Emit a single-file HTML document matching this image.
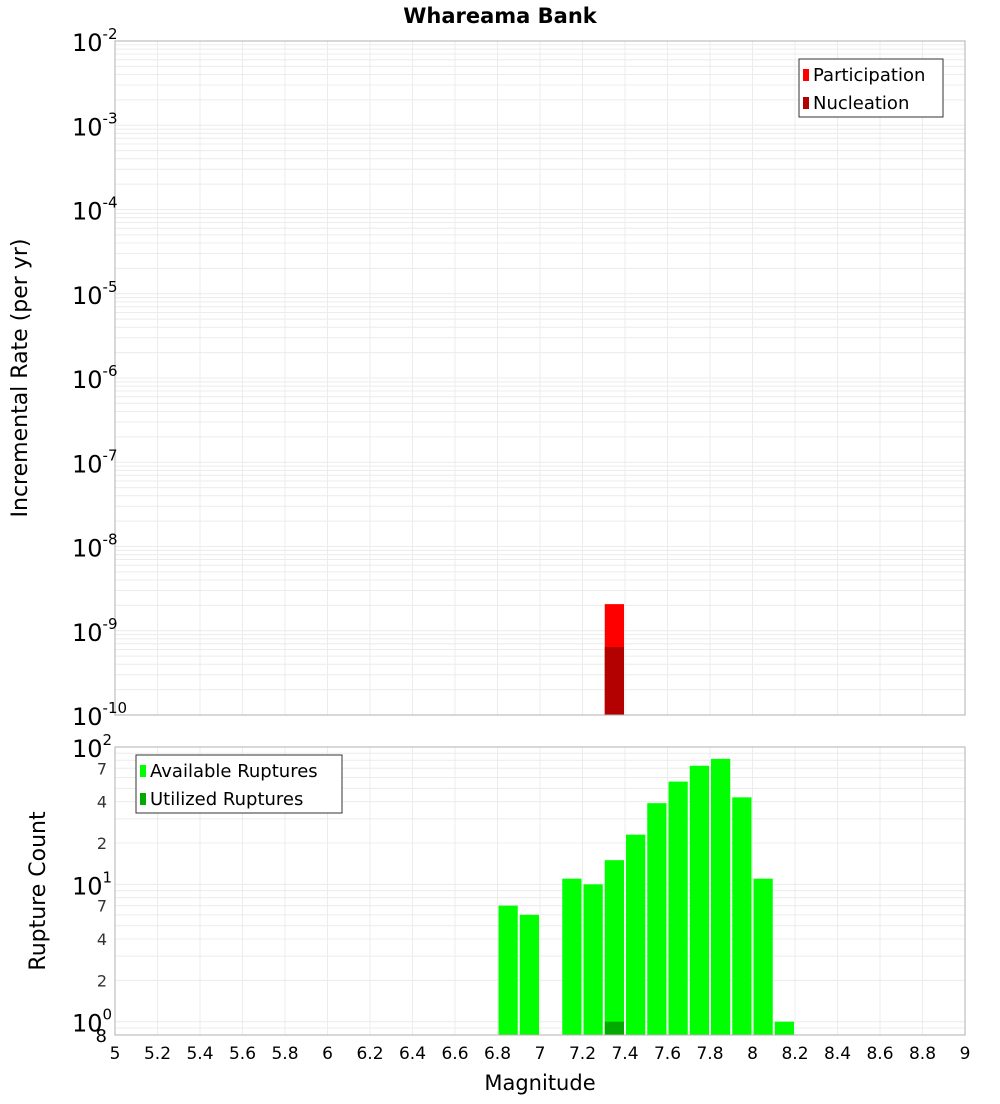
<!DOCTYPE html>
<html><head><meta charset="utf-8"><style>
body{margin:0;background:#fff;font-family:"DejaVu Sans","Liberation Sans",sans-serif;}
svg text{font-family:"DejaVu Sans","Liberation Sans",sans-serif;}
</style></head><body>
<svg id="c" width="1000" height="1100" xmlns="http://www.w3.org/2000/svg">
<text x="500" y="23" text-anchor="middle" font-size="21" font-weight="bold">Whareama Bank</text>
<text transform="translate(27,378) rotate(-90)" text-anchor="middle" font-size="22">Incremental Rate (per yr)</text>
<text transform="translate(45,891) rotate(-90)" text-anchor="middle" font-size="22">Rupture Count</text>
<text x="540" y="1090" text-anchor="middle" font-size="21">Magnitude</text>
<g id="g"></g>
</svg>
<script>
const partBins=[7.35];
const partVals=[2.07e-9];
const nuclBins=[7.35];
const nuclVals=[6.4e-10];
const availBins=[6.85,6.95,7.15,7.25,7.35,7.45,7.55,7.65,7.75,7.85,7.95,8.05,8.15];
const availVals=[7,6,11,10,15,23,39,56,73,82,43,11,1];
const utilBins=[7.35];
const utilVals=[1];
const xTicks=[5,5.2,5.4,5.6,5.8,6,6.2,6.4,6.6,6.8,7,7.2,7.4,7.6,7.8,8,8.2,8.4,8.6,8.8,9];
const topExps=[-2,-3,-4,-5,-6,-7,-8,-9,-10];
const botMinor=[[2,"2"],[4,"4"],[7,"7"],[20,"2"],[40,"4"],[70,"7"]];

const NS="http://www.w3.org/2000/svg";
const g=document.getElementById('g');
function el(t,a,txt){const e=document.createElementNS(NS,t);for(const k in a)e.setAttribute(k,a[k]);if(txt!==undefined)e.textContent=txt;g.appendChild(e);return e;}
const L=115,R=965;
const X=v=>L+(v-5)/4*(R-L);
const T0=41,T1=715;
const YT=v=>T1-(Math.log10(v)+10)/8*(T1-T0);
const B0=747,B1=1035;
const lmin=Math.log10(0.8),lmax=2;
const YB=v=>B1-(Math.log10(v)-lmin)/(lmax-lmin)*(B1-B0);

// top grid
for(let e=-10;e<-2;e++)for(let m=1;m<10;m++){const y=YT(m*Math.pow(10,e));
const ln=el('line',{x1:L,x2:R,y1:y,y2:y,stroke:'#ececec','stroke-width':1});
}
for(const t of xTicks){for(const [a,b] of [[T0,T1],[B0,B1]]){const ln=el('line',{x1:X(t),x2:X(t),y1:a,y2:b,stroke:'#ececec','stroke-width':1});
}}
// bottom grid
for(let e=-1;e<2;e++)for(let m=1;m<10;m++){const v=m*Math.pow(10,e);if(v<0.8)continue;const y=YB(v);
const ln=el('line',{x1:L,x2:R,y1:y,y2:y,stroke:'#ececec','stroke-width':1});
}
const bw=(R-L)/40;
// top bars
partBins.forEach((b,i)=>{const y=YT(partVals[i]);const r=el('rect',{x:X(b)-bw/2+1,y:y,width:bw-2,height:T1-y,fill:'#ff0000'});
});
nuclBins.forEach((b,i)=>{const y=YT(nuclVals[i]);const r=el('rect',{x:X(b)-bw/2+1,y:y,width:bw-2,height:T1-y,fill:'#b30000'});
});
// bottom bars
availBins.forEach((b,i)=>{const y=YB(availVals[i]);const r=el('rect',{x:X(b)-bw/2+1,y:y,width:bw-2,height:B1-y,fill:'#00ff00'});
});
utilBins.forEach((b,i)=>{const y=YB(utilVals[i]);const r=el('rect',{x:X(b)-bw/2+1,y:y,width:bw-2,height:B1-y,fill:'#00aa00'});
});
// frames
let f=el('rect',{x:L,y:T0,width:R-L,height:T1-T0,fill:'none',stroke:'#b0b0b0'});

f=el('rect',{x:L,y:B0,width:R-L,height:B1-B0,fill:'none',stroke:'#b0b0b0'});

// top y labels
topExps.forEach(e=>{const y=YT(Math.pow(10,e));
const t=el('text',{x:72,y:y+10,'font-size':24});
t.innerHTML='10<tspan dy="-12" font-size="15">'+e+'</tspan>';});
// bottom y labels
[[1,"0"],[10,"1"],[100,"2"]].forEach(([v,s])=>{const y=YB(v);
const t=el('text',{x:72,y:y+10,'font-size':24});
t.innerHTML='10<tspan dy="-12" font-size="15">'+s+'</tspan>';});
botMinor.forEach(([v,s])=>{const t=el('text',{x:107,y:YB(v)+6,'text-anchor':'end','font-size':16,fill:'#333'},s);
});
let t8=el('text',{x:107,y:1042,'text-anchor':'end','font-size':18},'8');
// x labels
xTicks.forEach(v=>{const t=el('text',{x:X(v),y:1059,'text-anchor':'middle','font-size':17},String(v));
});
// legends
function legend(x,y,w,items,name){const r=el('rect',{x:x,y:y,width:w,height:58,fill:'#fff',stroke:'#333'});

items.forEach(([c,s],i)=>{const sw=el('rect',{x:x+4,y:y+10+i*28,width:6,height:12,fill:c});
const tx=el('text',{x:x+14,y:y+22+i*28,'font-size':18},s);});}
legend(799,59,144,[['#ff0000','Participation'],['#b30000','Nucleation']],'top-legend');
legend(136,755,206,[['#00ff00','Available Ruptures'],['#00aa00','Utilized Ruptures']],'bottom-legend');
</script>
</body></html>
